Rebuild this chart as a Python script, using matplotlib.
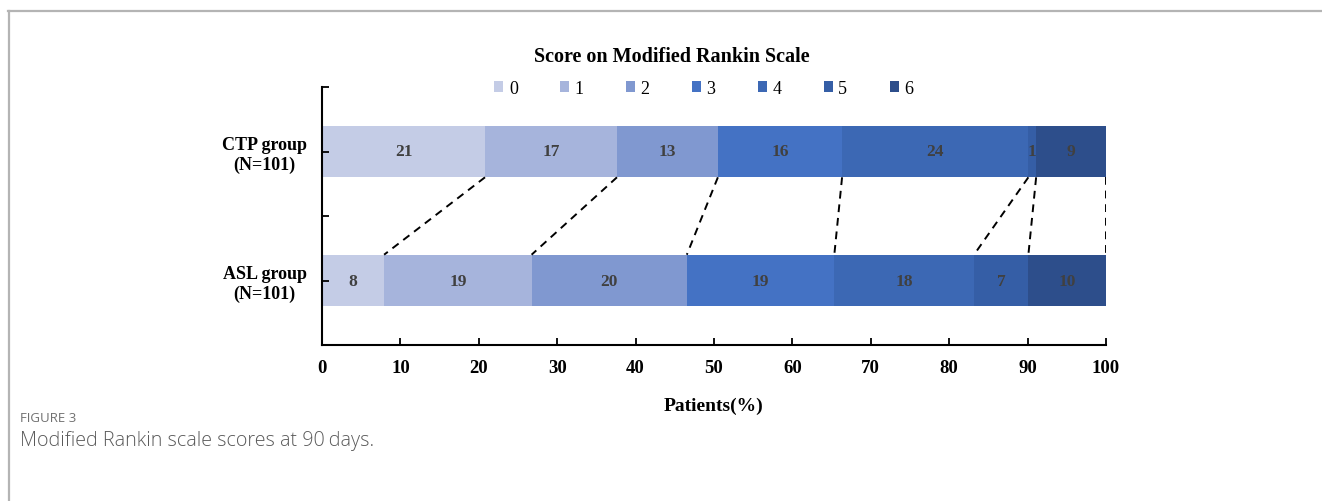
import numpy as np
import matplotlib.pyplot as plt
from matplotlib.lines import Line2D

groups = ["ASL group\n(N=101)", "CTP group\n(N=101)"]
scores = ["0", "1", "2", "3", "4", "5", "6"]
ctp = [21, 17, 13, 16, 24, 1, 9]
asl = [8, 19, 20, 19, 18, 7, 10]
colors = ["#c4cce6", "#a6b4dc", "#8098d0", "#4472c4", "#3c68b4", "#355ea6", "#2d4e8b"]

plt.rcParams['font.family'] = ['Liberation Serif', 'DejaVu Serif']

W, H = 1322, 502
fig = plt.figure(figsize=(W/100, H/100), dpi=100)
ax = fig.add_axes([322/W, 1-346/H, (1106-322)/W, (346-88)/H])

counts = np.array([asl, ctp], dtype=float)
pct = counts / counts.sum(axis=1, keepdims=True) * 100
ypos = np.array([0, 1])
left = np.zeros(2)
for i, s in enumerate(scores):
    ax.barh(ypos, pct[:, i], left=left, height=0.4, color=colors[i], label=s)
    for j in range(2):
        ax.text(left[j] + pct[j, i]/2, ypos[j], str(int(counts[j, i])),
                ha='center', va='center', fontsize=12.5, fontweight='bold', color='#404040')
    left = left + pct[:, i]

# dashed connectors between the two bars
cum = np.cumsum(pct, axis=1)
for k in range(len(scores)):
    ax.plot([cum[1, k], cum[0, k]], [1 - 0.2, 0 + 0.2], ls=(0, (4, 3)), color='black', lw=1.4)

ax.set_xlim(0, 100)
ax.set_ylim(-0.5, 1.5)
ax.set_xticks(np.arange(0, 101, 10))
ax.set_yticks([0, 0.5, 1, 1.5])
ax.set_yticklabels([groups[0], "", groups[1], ""])
for lab in ax.get_xticklabels():
    lab.set_fontweight('bold')
    lab.set_fontsize(13.5)
for lab in ax.get_yticklabels():
    lab.set_fontweight('bold')
    lab.set_fontsize(13)
    lab.set_multialignment('center')
ax.tick_params(axis='both', direction='in', length=5, width=1.3, colors='black')
ax.tick_params(axis='x', pad=10)
ax.tick_params(axis='y', pad=11)
for sp in ['top', 'right']:
    ax.spines[sp].set_visible(False)
for sp in ['left', 'bottom']:
    ax.spines[sp].set_linewidth(1.5)

ax.set_xlabel("Patients(%)", fontsize=14, fontweight='bold', labelpad=15)

fig.text(672/W, 1-57/H, "Score on Modified Rankin Scale", ha='center', va='center',
         fontsize=14.5, fontweight='bold')
ax.legend(loc='center', bbox_to_anchor=(0.487, 0.995), ncol=7, frameon=False,
          fontsize=13, handlelength=0.5, handleheight=0.5, handletextpad=0.3,
          columnspacing=2.35)

# page frame and caption
fig.add_artist(Line2D([8/W, 1], [1-11.5/H, 1-11.5/H], color='#b4b4b4', lw=1.6))
fig.add_artist(Line2D([8.5/W, 8.5/W], [0, 1-11.5/H], color='#b4b4b4', lw=1.6))
fig.text(20/W, 1-418/H, "FIGURE 3", ha='left', va='center', fontsize=9.5,
         family=['Open Sans', 'DejaVu Sans'], color='#707070')
fig.text(20/W, 1-441/H, "Modified Rankin scale scores at 90\u2009days.", ha='left', va='center',
         fontsize=14.2, family=['Open Sans', 'DejaVu Sans'], fontweight='light', color='#5a5a5a')

fig.savefig("out.png", dpi=100)
